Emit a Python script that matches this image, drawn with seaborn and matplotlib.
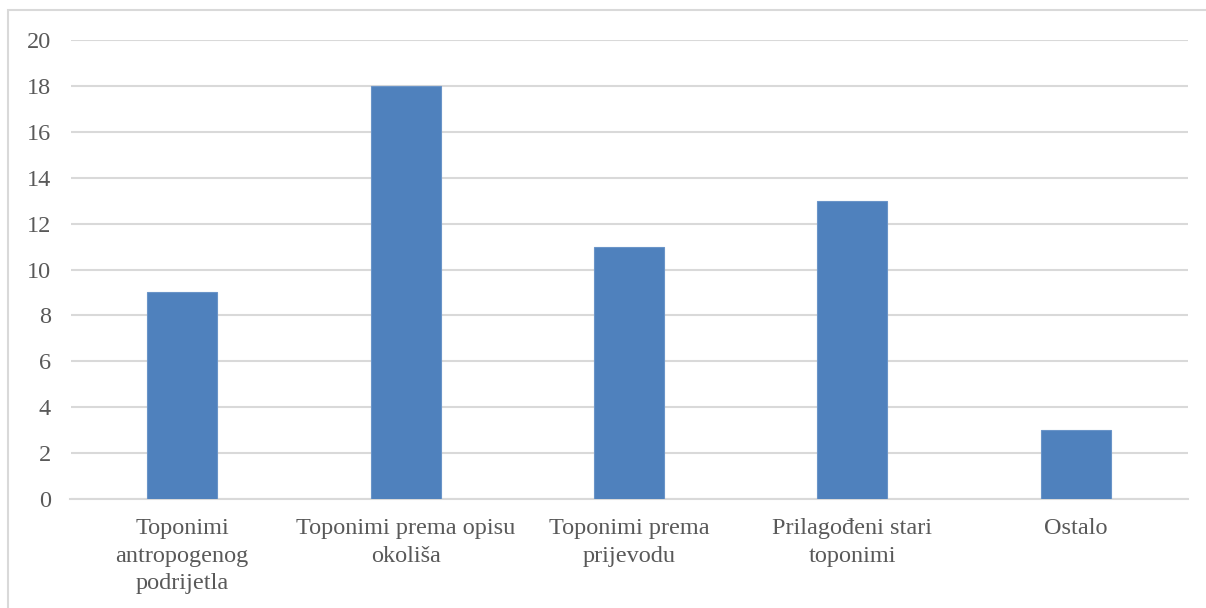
import pandas as pd
import matplotlib
matplotlib.use('Agg')
import matplotlib.pyplot as plt
import seaborn as sns
from matplotlib.patches import Rectangle

# Data
categories = ['Toponimi\nantropogenog\npodrijetla',
              'Toponimi prema opisu\nokoliša',
              'Toponimi prema\nprijevodu',
              'Prilagođeni stari\ntoponimi',
              'Ostalo']
counts = [9, 18, 11, 13, 3]
y_ticks = list(range(0, 21, 2))

sns.set_theme(style='white')
plt.rcParams['font.family'] = ['Liberation Serif', 'DejaVu Serif']

df = pd.DataFrame({'category': categories, 'count': counts})

fig = plt.figure(figsize=(12.06, 6.08), dpi=100)
ax = fig.add_axes([70.5 / 1206, 1 - 499 / 608, 1117 / 1206, 459 / 608])

# light border around the chart area, as in the Excel export
fig.patches.append(Rectangle((8 / 1206, -0.1), 1.2, 1.1 - 10 / 608,
                             transform=fig.transFigure, fill=False,
                             edgecolor='#D9D9D9', linewidth=1.5, zorder=0))

sns.barplot(data=df, x='category', y='count', color='#4F81BD',
            saturation=1, width=0.314, ax=ax, zorder=3,
            edgecolor='#6A94C8', linewidth=0.8)

ax.set_ylim(0, 20)
ax.set_yticks(y_ticks)
ax.set_xlim(-0.5, len(categories) - 0.5)
ax.yaxis.grid(True, color='#D9D9D9', linewidth=1.5, zorder=0)
ax.set_axisbelow(True)
for side in ['top', 'right', 'left']:
    ax.spines[side].set_visible(False)
ax.spines['bottom'].set_color('#D9D9D9')
ax.spines['bottom'].set_linewidth(1.5)

ax.set_xlabel('')
ax.set_ylabel('')
ax.tick_params(axis='both', length=0, labelsize=17.5, colors='#595959')
ax.tick_params(axis='y', pad=14)
ax.tick_params(axis='x', pad=14)
for lbl in ax.get_xticklabels():
    lbl.set_linespacing(1.38)

fig.savefig('out.png', dpi=100)
